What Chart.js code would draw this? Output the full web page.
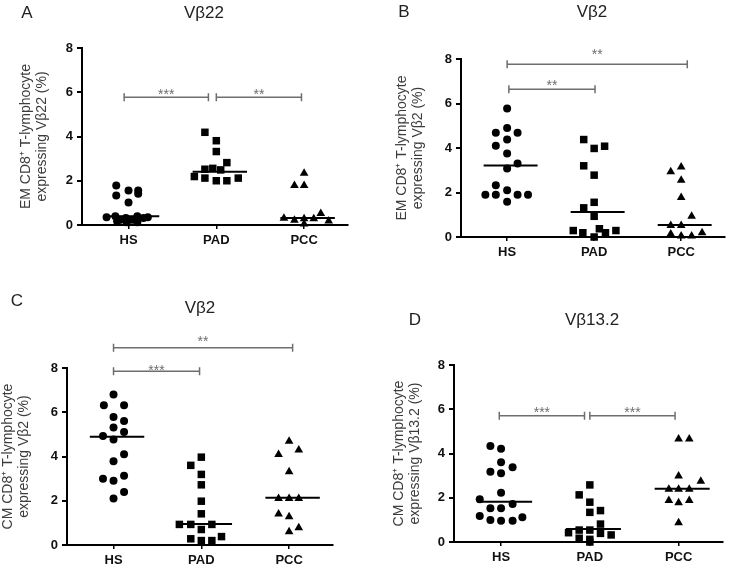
<!DOCTYPE html>
<html>
<head>
<meta charset="utf-8">
<script src="https://cdn.jsdelivr.net/npm/chart.js@4.4.1/dist/chart.umd.min.js"></script>
<style>
    body { margin: 0; background: #fff; font-family: "Liberation Sans", Arial, sans-serif; }
    #page { position: relative; width: 730px; height: 564px; overflow: hidden; }
    .panel { position: absolute; width: 365px; height: 282px; }
    .lbl { position: absolute; font-size: 17px; color: #222; transform: translate(-50%, -50%); white-space: nowrap; }
</style>
</head>
<body>
<div id="page">
    <div class="panel" style="left:0;top:0"><canvas id="chartA" width="365" height="282"></canvas></div>
    <div class="panel" style="left:365px;top:0"><canvas id="chartB" width="365" height="282"></canvas></div>
    <div class="panel" style="left:0;top:282px"><canvas id="chartC" width="365" height="282"></canvas></div>
    <div class="panel" style="left:365px;top:282px"><canvas id="chartD" width="365" height="282"></canvas></div>

    <div class="lbl" style="left:27px;top:13px">A</div>
    <div class="lbl" style="left:204px;top:13px">Vβ22</div>
    <div class="lbl" style="left:404px;top:12px">B</div>
    <div class="lbl" style="left:592px;top:12px">Vβ2</div>
    <div class="lbl" style="left:17px;top:301px">C</div>
    <div class="lbl" style="left:200px;top:308px">Vβ2</div>
    <div class="lbl" style="left:415px;top:320px">D</div>
    <div class="lbl" style="left:592px;top:320px">Vβ13.2</div>
</div>

<script>
// Groups on the x axis
const groups = ['HS', 'PAD', 'PCC'];
const yTicks = [0, 2, 4, 6, 8];

// Panel A - EM, Vb22
const aHS = [1.78, 1.56, 1.56, 1.33, 1.41, 1.02, 0.35, 0.39, 0.24, 0.32, 0.24, 0.39, 0.32, 0.35, 0.17, 0.12, 0.12];
const aHSJit = [-0.14, 0, 0.11, -0.14, 0.11, 0, -0.25, -0.15, -0.09, -0.03, 0.04, 0.1, 0.17, 0.22, -0.13, -0.02, 0.1];
const aPAD = [4.19, 3.81, 3.32, 2.82, 2.52, 2.56, 2.49, 2.19, 2.12, 2.0, 2.0, 2.12];
const aPADJit = [-0.13, 0, 0, 0.12, -0.13, -0.04, 0.05, -0.25, -0.13, 0, 0.12, 0.25];
const aPCC = [2.34, 1.78, 1.78, 0.3, 0.22, 0.28, 0.28, 0.52, 0.18, 0.04];
const aPCCJit = [0, -0.11, 0, -0.23, -0.11, 0, 0.11, 0.19, 0.28, 0];
const aMedians = [0.4, 2.41, 0.32];
const aBrackets = [[-0.05, 0.91, 5.77, '***', 6.02], [1.0, 1.97, 5.77, '**', 6.02]];

// Panel B - EM, Vb2
const bHS = [5.78, 4.9, 4.68, 4.68, 4.38, 4.1, 3.75, 3.3, 3.08, 2.33, 2.1, 1.9, 1.9, 1.9, 1.9, 1.58];
const bHSJit = [0, 0, -0.13, 0.12, 0, -0.13, 0, 0.12, 0, -0.13, 0, -0.25, -0.13, 0.12, 0.24, 0];
const bPAD = [4.38, 3.98, 4.08, 3.2, 2.78, 1.56, 1.31, 0.93, 0.29, 0.19, 0, 0.37, 0.19, 0.29];
const bPADJit = [-0.12, 0, 0.12, -0.12, 0, 0, -0.12, 0, -0.24, -0.13, 0, 0.06, 0.13, 0.25];
const bPCC = [2.93, 3.15, 2.55, 1.77, 0.93, 0.52, 0.52, 0.14, 0.04, 0.04, 0.19];
const bPCCJit = [-0.12, 0, 0, 0, 0.12, -0.12, 0, -0.12, 0, 0.12, 0.24];
const bMedians = [3.21, 1.12, 0.54];
const bBrackets = [[0, 2.07, 7.76, '**', 8.33], [0.02, 1.01, 6.64, '**', 6.91]];

// Panel C - CM, Vb2
const cHS = [6.8, 6.32, 6.32, 5.79, 5.61, 5.31, 5.11, 4.93, 4.77, 4.1, 3.79, 3.0, 2.9, 3.13, 2.4, 2.1];
const cHSJit = [0, -0.11, 0.12, 0, 0.12, 0, 0.12, -0.12, 0, 0.12, 0, -0.12, 0, 0.12, 0.12, 0];
const cPAD = [3.97, 3.6, 3.19, 2.72, 1.98, 1.41, 0.93, 0.93, 0.7, 0.93, 0.28, 0.2, 0.2, 0.38];
const cPADJit = [0, -0.12, 0, 0, 0, 0, -0.25, -0.12, 0, 0.12, -0.12, 0, 0.12, 0.23];
const cPCC = [4.69, 4.09, 4.29, 3.31, 2.1, 2.1, 2.1, 1.4, 1.28, 0.78, 0.6];
const cPCCJit = [0, -0.12, 0.11, 0, -0.12, 0, 0.11, -0.12, 0, 0.11, 0];
const cMedians = [4.89, 0.95, 2.13];
const cBrackets = [[0, 2.04, 8.92, '**', 9.32], [0, 0.98, 7.85, '***', 8.0]];

// Panel D - CM, Vb13.2
const dHS = [4.34, 4.21, 3.6, 3.38, 3.18, 3.11, 2.23, 1.93, 1.72, 1.52, 1.52, 1.18, 1.0, 0.96, 0.96, 1.12];
const dHSJit = [-0.12, 0, 0, 0.13, -0.12, 0, 0, -0.24, 0.13, -0.12, 0, -0.24, -0.12, 0, 0.13, 0.24];
const dPAD = [2.58, 2.13, 1.8, 1.34, 1.42, 0.81, 0.54, 0.42, 0.54, 0.17, 0.12, 0.39, 0.32, 0.0];
const dPADJit = [0, -0.12, 0, 0, 0.12, 0.12, -0.12, -0.24, 0, -0.12, 0, 0.12, 0.24, 0];
const dPCC = [4.66, 4.66, 2.98, 2.75, 2.38, 2.38, 2.38, 1.88, 1.77, 1.88, 0.87];
const dPCCJit = [0, 0.12, 0, 0.25, -0.11, 0, 0.12, -0.11, 0, 0.12, 0];
const dMedians = [1.82, 0.59, 2.41];
const dBrackets = [[-0.02, 0.94, 5.71, '***', 5.94], [1.0, 1.96, 5.71, '***', 5.94]];

const FONT = '"Liberation Sans", Arial, sans-serif';

// Significance brackets drawn with the chart's own scales
function bracketPlugin(list) {
    return {
        id: 'brackets',
        afterDatasetsDraw(chart) {
            const ctx = chart.ctx;
            const x = chart.scales.x, y = chart.scales.y;
            ctx.save();
            ctx.strokeStyle = '#6e6e6e';
            ctx.fillStyle = '#6e6e6e';
            ctx.lineWidth = 1.5;
            ctx.font = '14px ' + FONT;
            ctx.textAlign = 'center';
            ctx.textBaseline = 'middle';
            list.forEach(b => {
                const x1 = x.getPixelForValue(b[0]);
                const x2 = x.getPixelForValue(b[1]);
                const yy = y.getPixelForValue(b[2]);
                ctx.beginPath();
                ctx.moveTo(x1, yy); ctx.lineTo(x2, yy);
                ctx.moveTo(x1, yy - 4); ctx.lineTo(x1, yy + 4);
                ctx.moveTo(x2, yy - 4); ctx.lineTo(x2, yy + 4);
                ctx.stroke();
                ctx.fillText(b[3], (x1 + x2) / 2, y.getPixelForValue(b[4]) + 3);
            });
            ctx.restore();
        }
    };
}

function buildPanel(id, series, jitter, medians, brackets, titleLines, box) {
    const shapes = ['circle', 'rect', 'triangle'];
    const radii = [4, 5.3, 5];
    const datasets = [];

    series.forEach((vals, g) => {
        datasets.push({
            type: 'scatter',
            label: groups[g],
            data: vals.map((v, i) => ({ x: g + jitter[g][i], y: v })),
            pointStyle: shapes[g],
            pointRadius: radii[g],
            backgroundColor: '#000',
            borderColor: '#000',
            borderWidth: 0,
            clip: false
        });
    });

    medians.forEach((m, g) => {
        datasets.push({
            type: 'line',
            label: groups[g] + ' median',
            data: [{ x: g - 0.27, y: m }, { x: g + 0.35, y: m }],
            borderColor: '#000',
            borderWidth: 2,
            pointRadius: 0,
            clip: false
        });
    });

    return new Chart(document.getElementById(id), {
        type: 'scatter',
        data: { datasets: datasets },
        options: {
            responsive: false,
            animation: false,
            layout: {
                padding: { left: box.titleLeft, top: box.top, right: 365 - box.right, bottom: 0 }
            },
            plugins: {
                legend: { display: false },
                tooltip: { enabled: false }
            },
            scales: {
                x: {
                    type: 'linear',
                    min: -0.53,
                    max: 2.5,
                    afterBuildTicks: function(scale) {
                        scale.ticks = groups.map((g, i) => ({ value: i }));
                    },
                    afterFit: function(scale) {
                        scale.height = 282 - box.bottom;
                    },
                    ticks: {
                        callback: function(value) { return groups[value]; },
                        font: { family: FONT, size: 13, weight: 'bold' },
                        color: '#111',
                        padding: 4,
                        maxRotation: 0
                    },
                    grid: {
                        drawOnChartArea: false,
                        drawTicks: true,
                        tickLength: 4,
                        color: '#000',
                        lineWidth: 1.5
                    },
                    border: { display: true, color: '#000', width: 2 }
                },
                y: {
                    min: 0,
                    max: 8,
                    afterBuildTicks: function(scale) {
                        scale.ticks = yTicks.map(v => ({ value: v }));
                    },
                    afterFit: function(scale) {
                        scale.width = box.left - box.titleLeft;
                    },
                    ticks: {
                        font: { family: FONT, size: 13, weight: 'bold' },
                        color: '#111',
                        padding: 4
                    },
                    grid: {
                        drawOnChartArea: false,
                        drawTicks: true,
                        tickLength: 5,
                        color: '#000',
                        lineWidth: 2
                    },
                    border: { display: true, color: '#000', width: 2 },
                    title: {
                        display: true,
                        text: titleLines,
                        font: { family: FONT, size: 14, lineHeight: 1.15 },
                        color: '#3c3c3c',
                        padding: 0
                    }
                }
            }
        },
        plugins: [bracketPlugin(brackets)]
    });
}

buildPanel('chartA', [aHS, aPAD, aPCC], [aHSJit, aPADJit, aPCCJit], aMedians, aBrackets,
    ['EM CD8⁺ T-lymphocyte', 'expressing Vβ22 (%)'],
    { left: 82, right: 348, top: 48, bottom: 225, titleLeft: 18 });

buildPanel('chartB', [bHS, bPAD, bPCC], [bHSJit, bPADJit, bPCCJit], bMedians, bBrackets,
    ['EM CD8⁺ T-lymphocyte', 'expressing Vβ2 (%)'],
    { left: 96, right: 362, top: 59, bottom: 237, titleLeft: 29 });

buildPanel('chartC', [cHS, cPAD, cPCC], [cHSJit, cPADJit, cPCCJit], cMedians, cBrackets,
    ['CM CD8⁺ T-lymphocyte', 'expressing Vβ2 (%)'],
    { left: 67, right: 333, top: 86, bottom: 263, titleLeft: 0 });

buildPanel('chartD', [dHS, dPAD, dPCC], [dHSJit, dPADJit, dPCCJit], dMedians, dBrackets,
    ['CM CD8⁺ T-lymphocyte', 'expressing Vβ13.2 (%)'],
    { left: 89, right: 358, top: 83, bottom: 260, titleLeft: 26 });
</script>
</body>
</html>
